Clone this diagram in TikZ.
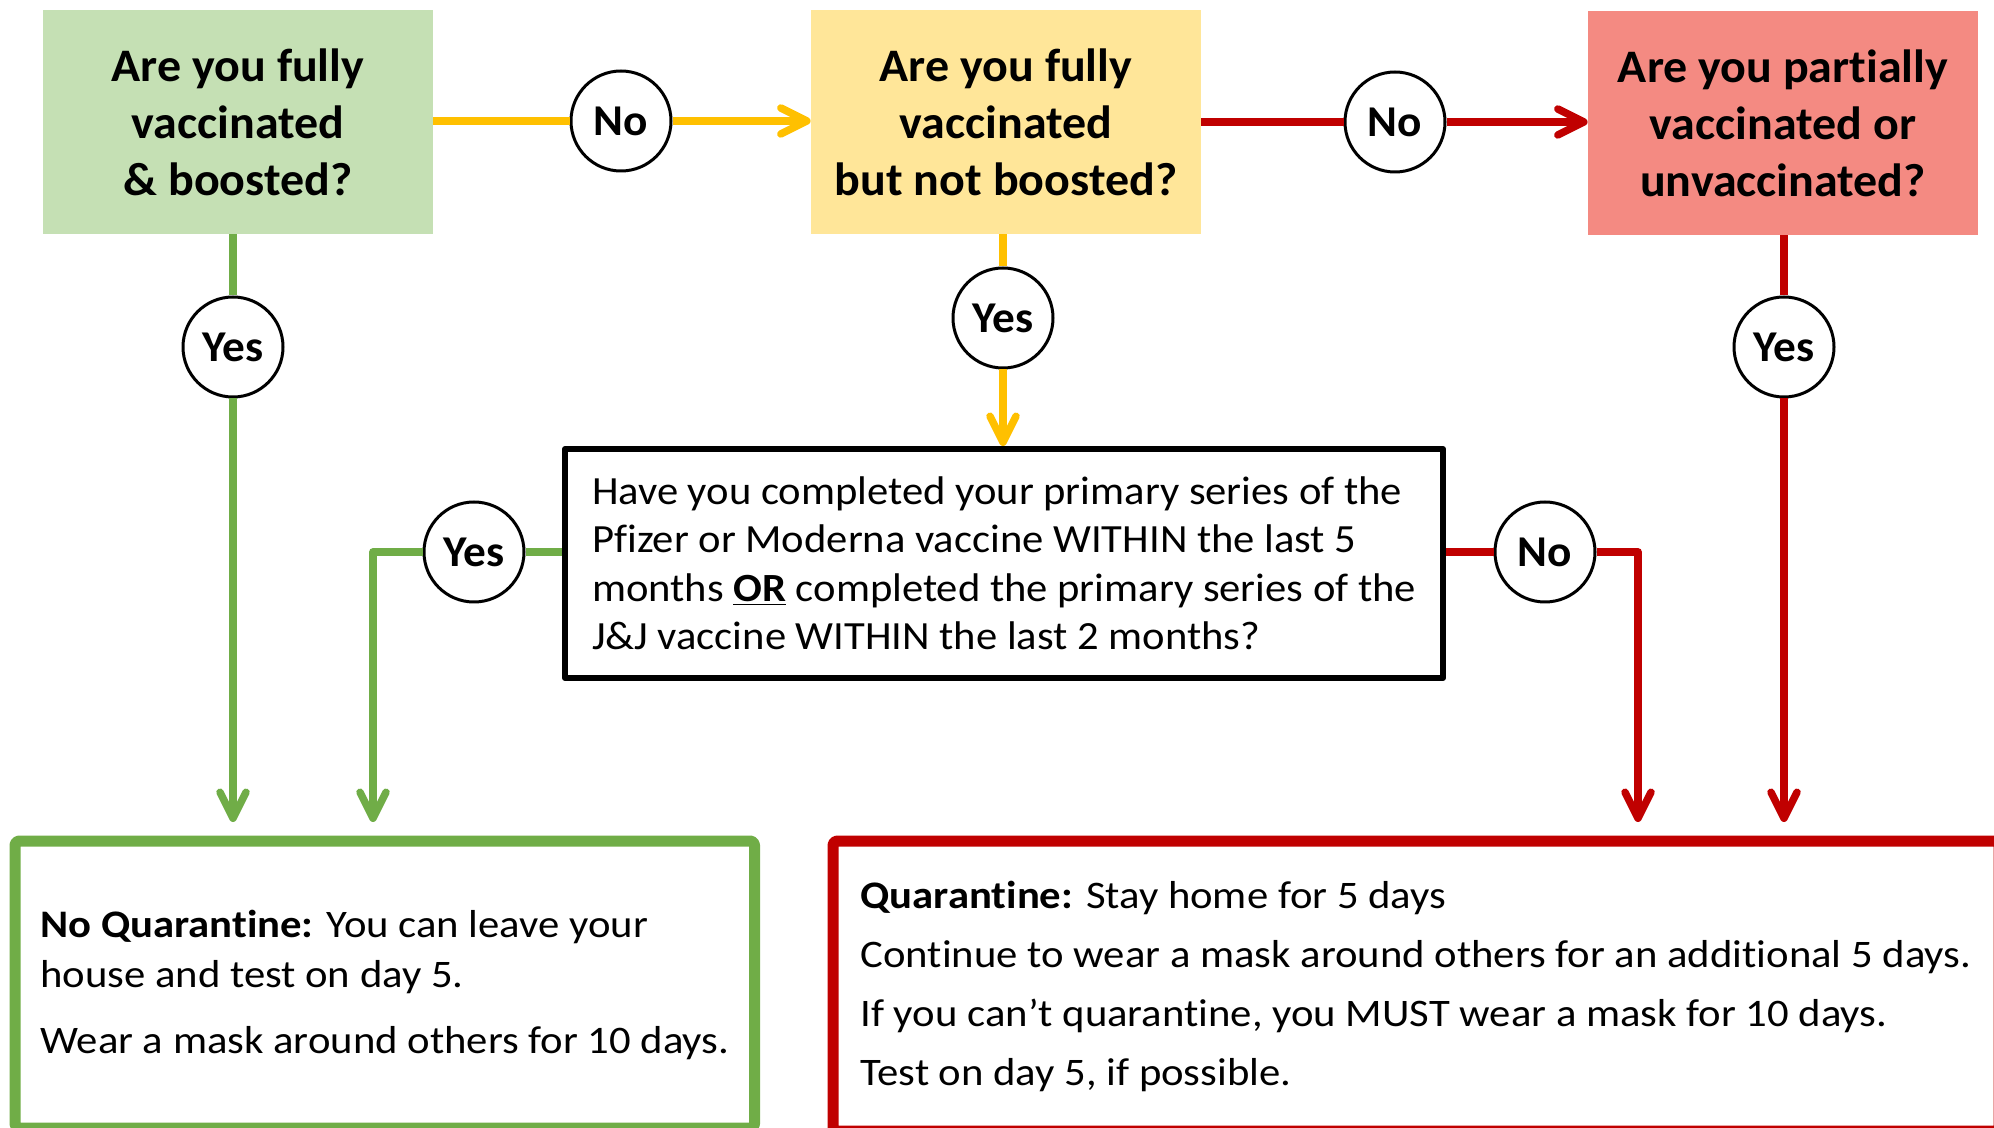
\documentclass[tikz,border=0pt]{standalone}
\usepackage{fontspec}
\setmainfont{Carlito}[Ligatures=NoCommon]
\newfontfamily\wideface{Carlito}[Ligatures=NoCommon, FakeStretch=1.095]
\newfontfamily\midface{Carlito}[Ligatures=NoCommon, FakeStretch=1.065]
\newfontfamily\topface{Carlito}[Ligatures=NoCommon, FakeStretch=1.03]
\usetikzlibrary{positioning}
\usetikzlibrary{arrows.meta}
\definecolor{vgreen}{HTML}{70AD47}
\definecolor{vgold}{HTML}{FFC000}
\definecolor{vred}{HTML}{C00000}
\definecolor{lgreen}{HTML}{C5E0B4}
\definecolor{lgold}{HTML}{FFE699}
\definecolor{lred}{HTML}{F48A82}

\begin{document}
\begin{tikzpicture}
[x=0.5pt, y=-0.5pt, line join=round,
 question/.style={minimum width=195pt, minimum height=112pt, inner sep=0pt, align=center,
                  font=\topface\fontsize{23.3}{28.5}\selectfont\bfseries},
 answer/.style={circle, draw=black, line width=1.5pt, fill=white, minimum size=50pt,
                inner sep=0pt, font=\topface\fontsize{22}{26}\selectfont\bfseries},
 outcome/.style={draw, line width=5.5pt, rounded corners=2pt, inner sep=0pt, align=left,
                 font=\wideface\fontsize{19.5}{25}\selectfont},
 greenline/.style={draw=vgreen, line width=3.75pt},
 goldline/.style={draw=vgold, line width=3.75pt},
 redline/.style={draw=vred, line width=3.75pt},
 arr/.style={-{Straight Barb[length=13pt,width=13pt,round]}}]

\useasboundingbox (0,0) rectangle (1994,1128);

% Questions:
\node[question, fill=lgreen] (fullboost) at (238,122) {Are you fully\\vaccinated\\\& boosted?};
\node[question, fill=lgold]  (fullnoboost) at (1006,122) {Are you fully\\vaccinated\\but not boosted?};
\node[question, fill=lred]   (partial) at (1783,123) {Are you partially\\vaccinated or\\unvaccinated?};

\node[draw, line width=3pt, minimum width=439pt, minimum height=114.5pt, inner sep=0pt,
      align=left, font=\midface\fontsize{20}{24.25}\selectfont] (primary) at (1004,563.5)
  {Have you completed your primary series of the\\
   Pfizer or Moderna vaccine WITHIN the last 5\\
   months \textbf{\underline{OR}} completed the primary series of the\\
   J\&J vaccine WITHIN the last 2 months?};

% Outcomes:
\node[outcome, draw=vgreen, minimum width=369.75pt, minimum height=143.5pt] (noquar) at (384.75,984.5)
  {\textbf{No Quarantine:} You can leave your\\
   house and test on day 5.\\[8pt]
   Wear a mask around others for 10 days.};
\node[outcome, draw=vred, minimum width=583pt, minimum height=145pt,
      font=\wideface\fontsize{19.5}{29.5}\selectfont] (quar) at (1416,986)
  {\textbf{Quarantine:} Stay home for 5 days\\
   Continue to wear a mask around others for an additional 5 days.\\
   If you can’t quarantine, you MUST wear a mask for 10 days.\\
   Test on day 5, if possible.};

% Yes/No circles:
\node[answer] (no1)  at (621,121)  {No};
\node[answer] (no2)  at (1395,122) {No};
\node[answer] (yes1) at (233,347)  {Yes};
\node[answer] (yes2) at (1003,318) {Yes};
\node[answer] (yes3) at (1784,347) {Yes};
\node[answer] (yes4) at (474,552)  {Yes};
\node[answer] (no3)  at (1545,552) {No};

% Arrow ends above the outcome boxes:
\coordinate (in1) at (233,822);
\coordinate (in2) at (373,822);
\coordinate (in3) at (1638,822);
\coordinate (in4) at (1784,822);

% Connectors:
\draw[goldline] (fullboost.east |- no1) -- (no1);
\draw[goldline,arr] (no1) -- (fullnoboost.west |- no1);
\draw[redline] (fullnoboost.east |- no2) -- (no2);
\draw[redline,arr] (no2) -- (partial.west |- no2);

\draw[greenline] (fullboost.south -| yes1) -- (yes1);
\draw[greenline,arr] (yes1) -- (in1);
\draw[goldline] (fullnoboost.south -| yes2) -- (yes2);
\draw[goldline,arr] (yes2) -- (primary.north -| yes2);
\draw[redline] (partial.south -| yes3) -- (yes3);
\draw[redline,arr] (yes3) -- (in4);

\draw[greenline] (primary.west |- yes4) -- (yes4);
\draw[greenline,arr] (yes4.west) -| (in2);
\draw[redline] (primary.east |- no3) -- (no3);
\draw[redline,arr] (no3.east) -| (in3);

\end{tikzpicture}
\end{document}
